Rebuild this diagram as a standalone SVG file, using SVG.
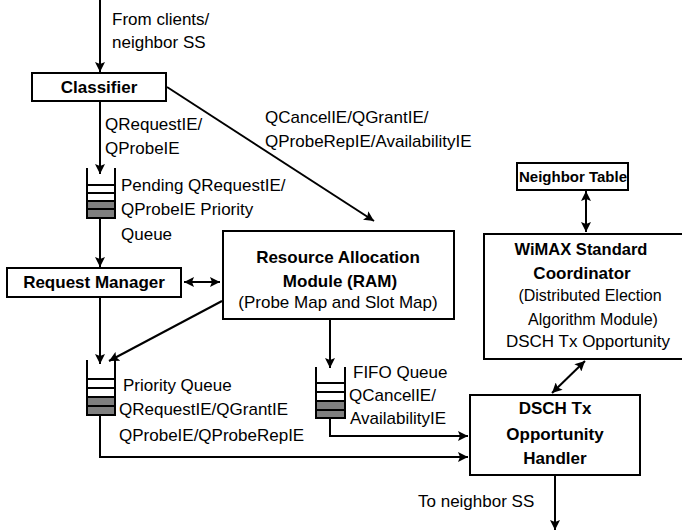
<svg xmlns="http://www.w3.org/2000/svg" width="682" height="531" viewBox="0 0 682 531">
<defs>
<marker id="ah" viewBox="0 0 10 10" refX="10" refY="5" markerWidth="10" markerHeight="10" markerUnits="userSpaceOnUse" orient="auto-start-reverse">
<path d="M0,0 L10,5 L0,10 L2,5 Z" fill="#000"/>
</marker>
<style>
.box{fill:#fff;stroke:#000;stroke-width:2}
.ln{fill:none;stroke:#000;stroke-width:2}
.q{fill:#fff;stroke:#000;stroke-width:2}
.g{fill:#7f7f7f;stroke:#000;stroke-width:2}
text{font-family:"Liberation Sans",Arial,sans-serif;font-size:17px;fill:#000}
.b{font-weight:bold;text-anchor:middle}
.c{text-anchor:middle}
</style>
</defs>
<rect width="682" height="531" fill="#fff"/>

<g id="connectors">
<line class="ln" x1="100" y1="0" x2="100" y2="72" marker-end="url(#ah)"/>
<line class="ln" x1="100" y1="101" x2="100" y2="174" marker-end="url(#ah)"/>
<line class="ln" x1="167" y1="87" x2="374" y2="221" marker-end="url(#ah)"/>
<line class="ln" x1="100" y1="218" x2="100" y2="267" marker-end="url(#ah)"/>
<line class="ln" x1="184" y1="282" x2="220" y2="282" marker-start="url(#ah)" marker-end="url(#ah)"/>
<line class="ln" x1="100" y1="297" x2="100" y2="364" marker-end="url(#ah)"/>
<line class="ln" x1="222" y1="301" x2="109" y2="361" marker-end="url(#ah)"/>
<line class="ln" x1="330" y1="319" x2="330" y2="368" marker-end="url(#ah)"/>
<polyline class="ln" points="330,418 330,436 468,436" marker-end="url(#ah)"/>
<polyline class="ln" points="100,415 100,457 468,457" marker-end="url(#ah)"/>
<line class="ln" x1="586" y1="191" x2="586" y2="232" marker-start="url(#ah)" marker-end="url(#ah)"/>
<line class="ln" x1="585" y1="361" x2="552" y2="393" marker-start="url(#ah)" marker-end="url(#ah)"/>
<line class="ln" x1="555" y1="475" x2="555" y2="530" marker-end="url(#ah)"/>
</g>

<g id="label-in">
<text x="112" y="25">From clients/</text>
<text x="112" y="48">neighbor SS</text>
</g>

<g id="classifier">
<rect class="box" x="32" y="73" width="134" height="28"/>
<text class="b" x="99" y="93">Classifier</text>
</g>

<g id="label-qreq">
<text x="105" y="130">QRequestIE/</text>
<text x="105" y="154">QProbeIE</text>
</g>

<g id="label-qcancel">
<text x="265" y="123">QCancelIE/QGrantIE/</text>
<text x="265" y="147">QProbeRepIE/AvailabilityIE</text>
</g>

<g id="pending-queue">
<rect class="q" x="87" y="185" width="28" height="8"/>
<rect class="q" x="87" y="193" width="28" height="8"/>
<rect class="g" x="87" y="201" width="28" height="8"/>
<rect class="g" x="87" y="209" width="28" height="9"/>
<polyline class="ln" points="87,168 87,218 115,218 115,168"/>
<text x="121" y="191">Pending QRequestIE/</text>
<text x="121" y="215">QProbeIE Priority</text>
<text x="121" y="240">Queue</text>
</g>

<g id="request-manager">
<rect class="box" x="7" y="268" width="174" height="29"/>
<text class="b" x="94" y="288">Request Manager</text>
</g>

<g id="ram">
<rect class="box" x="223" y="231" width="231" height="88"/>
<text class="b" x="338" y="263">Resource Allocation</text>
<text class="b" x="340" y="287">Module (RAM)</text>
<text class="c" x="338" y="308">(Probe Map and Slot Map)</text>
</g>

<g id="neighbor-table">
<rect class="box" x="517" y="163" width="111" height="27"/>
<text class="b" x="573" y="182" style="font-size:15px">Neighbor Table</text>
</g>

<g id="wimax">
<rect class="box" x="484" y="234" width="210" height="125"/>
<text class="b" x="581" y="255" style="font-size:16.5px">WiMAX Standard</text>
<text class="b" x="582" y="279">Coordinator</text>
<text class="c" x="590" y="301" style="font-size:16px">(Distributed Election</text>
<text class="c" x="593" y="325" style="font-size:16px">Algorithm Module)</text>
<text class="c" x="588" y="347">DSCH Tx Opportunity</text>
</g>

<g id="priority-queue">
<rect class="q" x="87" y="379" width="28" height="9"/>
<rect class="q" x="87" y="388" width="28" height="9"/>
<rect class="g" x="87" y="397" width="28" height="9"/>
<rect class="g" x="87" y="406" width="28" height="9"/>
<polyline class="ln" points="87,360 87,415 115,415 115,360"/>
<text x="123" y="391">Priority Queue</text>
<text x="119" y="415">QRequestIE/QGrantIE</text>
<text x="119" y="441">QProbeIE/QProbeRepIE</text>
</g>

<g id="fifo-queue">
<rect class="q" x="316" y="383" width="29" height="9"/>
<rect class="q" x="316" y="392" width="29" height="9"/>
<rect class="g" x="316" y="401" width="29" height="9"/>
<rect class="g" x="316" y="410" width="29" height="8"/>
<polyline class="ln" points="316,367 316,418 345,418 345,367"/>
<text x="353" y="378">FIFO Queue</text>
<text x="349" y="401">QCancelIE/</text>
<text x="350" y="424">AvailabilityIE</text>
</g>

<g id="dsch-handler">
<rect class="box" x="470" y="395" width="170" height="80"/>
<text class="b" x="555" y="414">DSCH Tx</text>
<text class="b" x="555" y="440">Opportunity</text>
<text class="b" x="555" y="464">Handler</text>
</g>

<g id="label-out">
<text x="418" y="507">To neighbor SS</text>
</g>
</svg>
